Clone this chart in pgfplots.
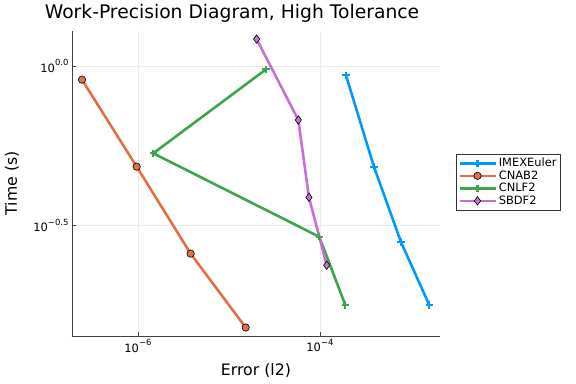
\documentclass[border=0pt]{standalone}
\usepackage{pgfplots}
\pgfplotsset{compat=1.18}
\usepackage{fontspec}
\setmainfont{DejaVu Sans}
\definecolor{c1}{HTML}{009AFA}
\definecolor{c2}{HTML}{E36F47}
\definecolor{c3}{HTML}{3EA44E}
\definecolor{c4}{HTML}{C371D2}
\newcommand{\tn}[1]{10\raisebox{0.55em}{\fontsize{8.5}{9}\selectfont #1}}
\begin{document}
\begin{tikzpicture}
\useasboundingbox (-72bp,-48bp) rectangle (504bp,336bp);
\begin{axis}[
  scale only axis, width=368bp, height=305bp,
  xmode=log, ymode=log,
  xmin=1.884e-7, xmax=2.084e-3, ymin=0.142, ymax=1.288,
  axis x line*=bottom, axis y line*=left,
  axis line style={black!75, line width=0.8bp, -},
  xtick={1e-6,1e-4}, xticklabels={\tn{−6},\tn{−4}},
  ytick={0.316228,1}, yticklabels={\tn{−0.5},\tn{0.0}},
  xminorticks=false, yminorticks=false,
  grid=major, major grid style={black!8, line width=0.5bp},
  major tick length=4bp, tick style={black!75, line width=0.6bp},
  tick align=inside,
  ticklabel style={font=\fontsize{11.5}{13}\selectfont},
  xlabel={Error (l2)}, ylabel={Time (s)},
  every axis x label/.style={at={(axis description cs:0.5,0)}, yshift=-35bp, anchor=center, font=\fontsize{15.8}{18}\selectfont},
  every axis y label/.style={at={(axis description cs:0,0.5)}, xshift=-60bp, anchor=center, rotate=90, font=\fontsize{15.8}{18}\selectfont},
  legend style={at={(axis description cs:1.0435,0.5967)}, anchor=north west, draw=black!80, font=\fontsize{11.5}{12}\selectfont, inner sep=2bp, row sep=-1.5bp},
  legend cell align=left,
  legend image code/.code={\draw[line width=2.6bp, mark repeat=2,mark phase=2] plot coordinates {(0bp,0bp)(18bp,0bp)(36bp,0bp)};},
]
\addplot[c1, line width=2.6bp, mark=+, mark size=3.6bp, mark options={line width=2.2bp}] coordinates {
(1.932e-4,0.935) (3.917e-4,0.483) (7.76e-4,0.2803) (1.589e-3,0.1778)};
\addlegendentry{IMEXEuler}
\addplot[c2, line width=2.6bp, mark=*, mark size=3.7bp, mark options={fill=c2, draw=black, line width=0.6bp}] coordinates {
(2.427e-7,0.906) (9.68e-7,0.483) (3.79e-6,0.2576) (1.528e-5,0.151)};
\addlegendentry{CNAB2}
\addplot[c3, line width=2.6bp, mark=+, mark size=3.6bp, mark options={line width=2.2bp}] coordinates {
(2.553e-5,0.976) (1.472e-6,0.532) (9.82e-5,0.291) (1.897e-4,0.1778)};
\addlegendentry{CNLF2}
\addplot[c4, line width=2.6bp, mark=diamond*, mark size=4.2bp, mark options={fill=c4, draw=black, line width=0.6bp}] coordinates {
(2.014e-5,1.215) (5.78e-5,0.677) (7.57e-5,0.387) (1.186e-4,0.2368)};
\addlegendentry{SBDF2}
\end{axis}
\node[font=\fontsize{18.8}{22}\selectfont] at (160bp,323bp) {Work-Precision Diagram, High Tolerance};
\end{tikzpicture}
\end{document}
